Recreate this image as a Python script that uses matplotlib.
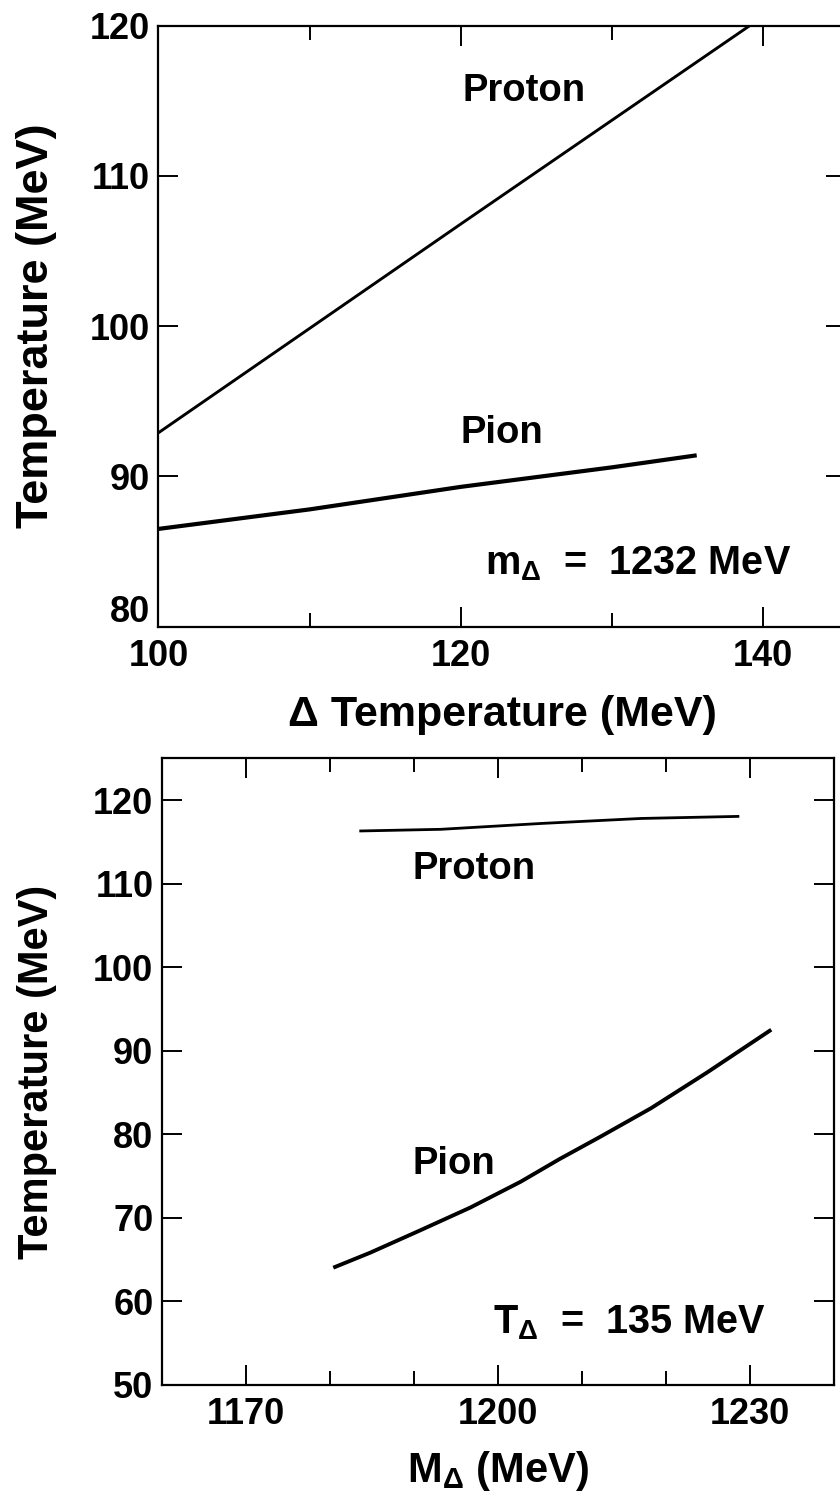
import matplotlib
matplotlib.use('Agg')
import matplotlib.pyplot as plt
from matplotlib.ticker import MultipleLocator

plt.rcParams['font.family'] = ['Liberation Sans', 'DejaVu Sans']
plt.rcParams['font.weight'] = 'bold'
plt.rcParams['axes.labelweight'] = 'bold'
plt.rcParams['mathtext.fontset'] = 'custom'
plt.rcParams['mathtext.rm'] = 'Liberation Sans:bold'
plt.rcParams['mathtext.it'] = 'Liberation Sans:bold'
plt.rcParams['mathtext.bf'] = 'Liberation Sans:bold'
plt.rcParams['mathtext.default'] = 'rm'

# top panel: temperature vs delta temperature (m_delta = 1232 MeV)
dT_proton = [100, 120, 139.1]
T_proton_top = [92.9, 106.8, 120.0]
dT_pion = [100, 110, 120, 130, 135.6]
T_pion_top = [86.5, 87.8, 89.3, 90.6, 91.4]

# bottom panel: temperature vs delta mass (T_delta = 135 MeV)
m_proton = [1183.5, 1193.2, 1205.1, 1217.0, 1228.7]
T_proton_bot = [116.3, 116.5, 117.2, 117.8, 118.05]
m_pion = [1180.4, 1184.8, 1190.8, 1196.7, 1202.7, 1207.3, 1212.2, 1218.2, 1224.9, 1232.5]
T_pion_bot = [64.0, 65.8, 68.5, 71.2, 74.3, 77.0, 79.7, 83.1, 87.4, 92.5]

top_xticks = [100, 120, 140]
top_yticks = [80, 90, 100, 110, 120]
bot_xticks = [1170, 1200, 1230]
bot_yticks = [50, 60, 70, 80, 90, 100, 110, 120]

fig = plt.figure(figsize=(8.4, 14.95), dpi=100)
ax1 = fig.add_axes([0.1886, 0.5809, 0.819, 0.4019])
ax2 = fig.add_axes([0.1926, 0.07385, 0.8006, 0.4189])


def style_axes(ax):
    for s in ax.spines.values():
        s.set_linewidth(1.6)
    ax.tick_params(which='both', direction='in', top=True, right=True,
                   width=1.4, labelsize=26)
    ax.tick_params(which='major', length=14.4, pad=6)
    ax.tick_params(which='minor', length=10)
    ax.tick_params(axis='x', which='major', pad=9)


# top
ax1.plot(dT_proton, T_proton_top, color='black', lw=2.1, solid_capstyle='butt')
ax1.plot(dT_pion, T_pion_top, color='black', lw=3.0, solid_capstyle='butt')
ax1.set_xlim(100, 145.5)
ax1.set_ylim(80, 120)
ax1.set_xticks(top_xticks)
ax1.set_yticks(top_yticks)
# the 80 label sits a little above its tick in the original
ax1.set_yticklabels([''] + [str(v) for v in top_yticks[1:]])
ax1.xaxis.set_minor_locator(MultipleLocator(10))
style_axes(ax1)
ax1.annotate(str(top_yticks[0]), xy=(0, top_yticks[0]), xycoords=('axes fraction', 'data'),
             xytext=(-6, 10), textcoords='offset points', ha='right', va='center', fontsize=26)
ax1.text(120.1, 115.0, 'Proton', fontsize=27.5, va='baseline')
ax1.text(120.0, 92.2, 'Pion', fontsize=27.5, va='baseline')
ax1.text(121.6, 83.5, 'm$_{Δ}$  =  1232 MeV', fontsize=28.5, va='baseline')
ax1.set_xlabel('Δ Temperature (MeV)', fontsize=31, labelpad=15)
ax1.set_ylabel('Temperature (MeV)', fontsize=32.5, labelpad=24)

# bottom
ax2.plot(m_proton, T_proton_bot, color='black', lw=2.0, solid_capstyle='butt')
ax2.plot(m_pion, T_pion_bot, color='black', lw=2.8, solid_capstyle='butt')
ax2.set_xlim(1160, 1240)
ax2.set_ylim(50, 125)
ax2.set_xticks(bot_xticks)
ax2.set_yticks(bot_yticks)
ax2.xaxis.set_minor_locator(MultipleLocator(10))
style_axes(ax2)
ax2.text(1189.8, 110.6, 'Proton', fontsize=27.5, va='baseline')
ax2.text(1189.8, 75.2, 'Pion', fontsize=27.5, va='baseline')
ax2.text(1199.4, 56.1, 'T$_{Δ}$  =  135 MeV', fontsize=28.5, va='baseline')
ax2.set_xlabel('M$_{Δ}$ (MeV)', fontsize=30, labelpad=12)
ax2.set_ylabel('Temperature (MeV)', fontsize=30, labelpad=26)

fig.savefig('out.png', dpi=100)
